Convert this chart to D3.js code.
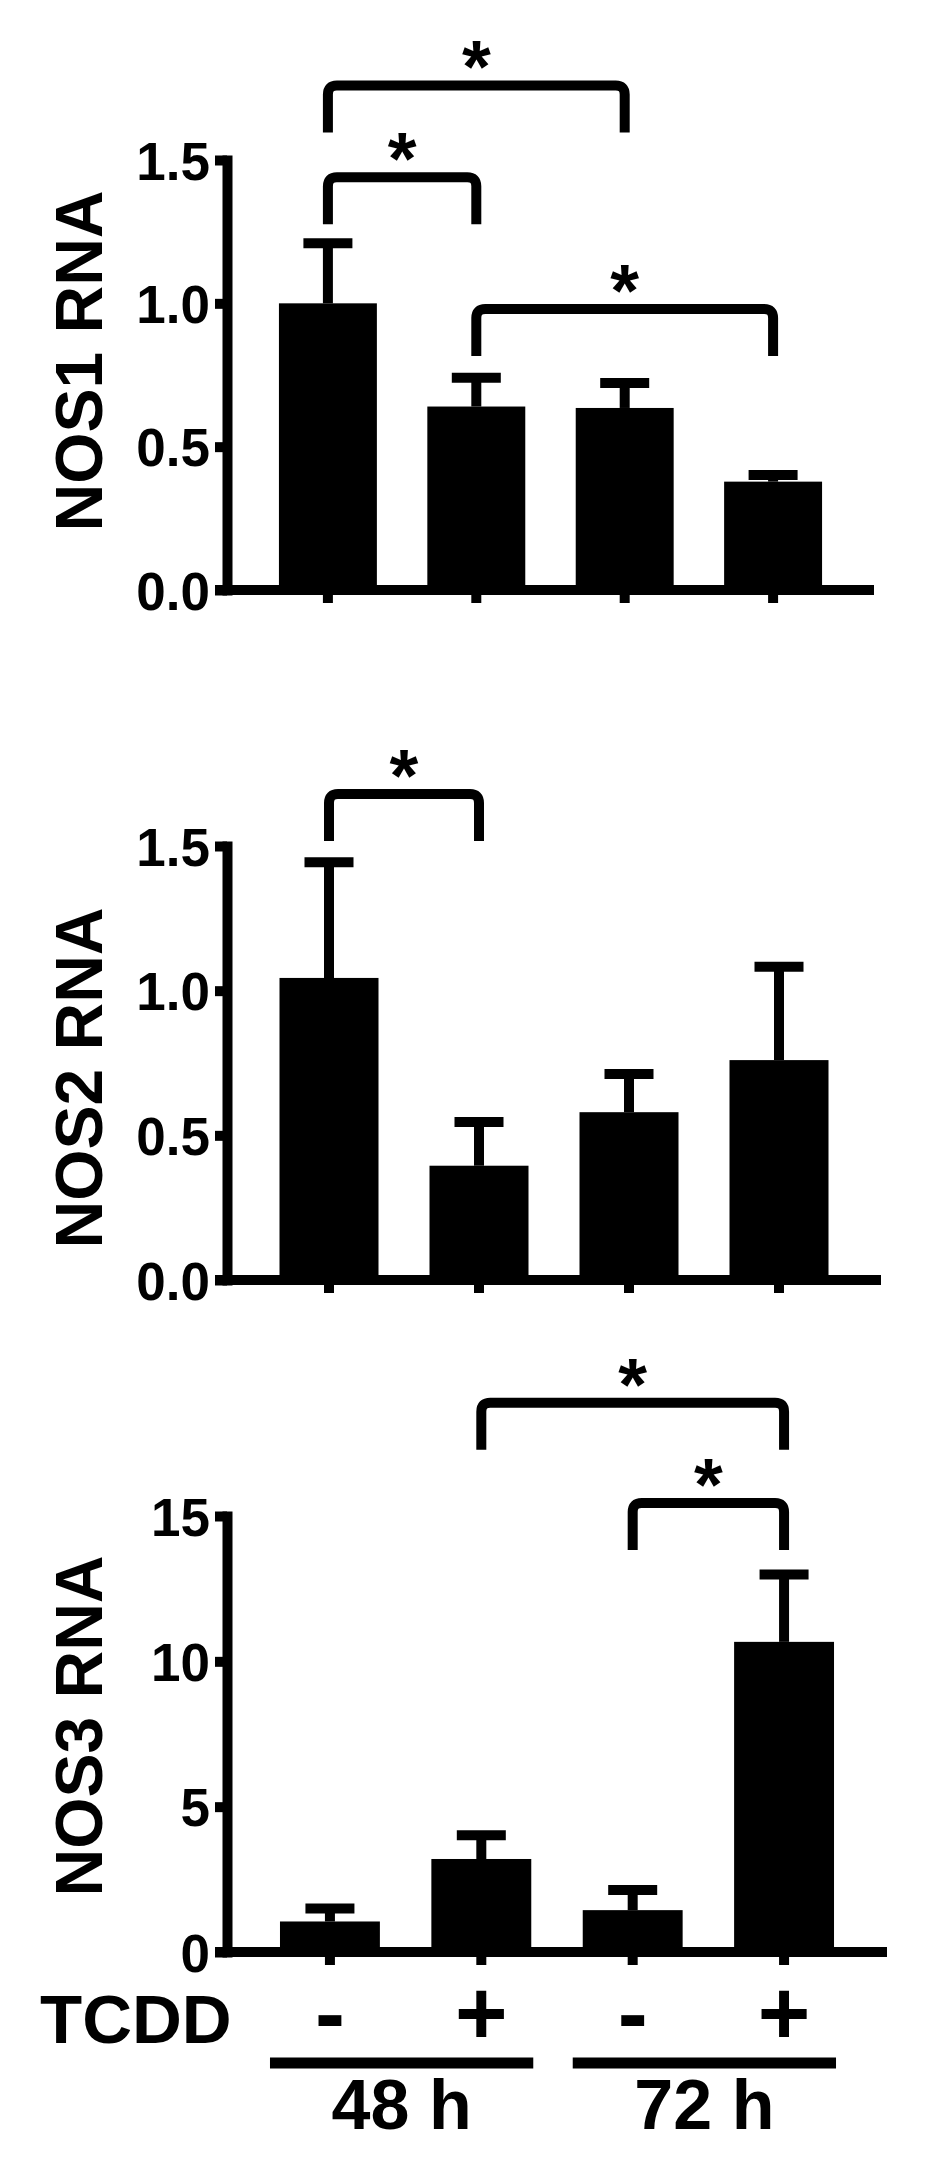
<!DOCTYPE html>
<html>
<head>
<meta charset="utf-8">
<script src="https://cdn.jsdelivr.net/npm/d3@7"></script>
<style>
  body { margin: 0; background: #fff; }
  svg { display: block; font-family: "Liberation Sans", Arial, sans-serif; font-weight: bold; }
</style>
</head>
<body>
<svg width="935" height="2161"></svg>
<script>
// groups along the x axis
var categories = ["48h ctrl", "48h TCDD", "72h ctrl", "72h TCDD"];
var tcddLabels = ["-", "+", "-", "+"];
var timeLabels = ["48 h", "72 h"];

// NOS1
var nos1Mean = [1.00, 0.64, 0.635, 0.378];
var nos1Err  = [0.21, 0.10, 0.087, 0.023];
var nos1Ticks = [0, 0.5, 1.0, 1.5];
var nos1Sig = [[0, 2, 1.76], [0, 1, 1.44], [1, 3, 0.98]];   // from, to, bracket level

// NOS2
var nos2Mean = [1.044, 0.395, 0.58, 0.76];
var nos2Err  = [0.40, 0.151, 0.132, 0.323];
var nos2Ticks = [0, 0.5, 1.0, 1.5];
var nos2Sig = [[0, 1, 1.68]];

// NOS3
var nos3Mean = [1.05, 3.2, 1.44, 10.67];
var nos3Err  = [0.45, 0.82, 0.69, 2.32];
var nos3Ticks = [0, 5, 10, 15];
var nos3Sig = [[1, 3, 18.9], [2, 3, 15.45]];

var panels = [
  { title: "NOS1 RNA", mean: nos1Mean, err: nos1Err, ticks: nos1Ticks, sig: nos1Sig, fmt: d3.format(".1f"),
    top: 160, bottom: 590, xEnd: 874, titleY: 361 },
  { title: "NOS2 RNA", mean: nos2Mean, err: nos2Err, ticks: nos2Ticks, sig: nos2Sig, fmt: d3.format(".1f"),
    top: 846, bottom: 1280, xEnd: 881, titleY: 1078 },
  { title: "NOS3 RNA", mean: nos3Mean, err: nos3Err, ticks: nos3Ticks, sig: nos3Sig, fmt: d3.format("d"),
    top: 1516, bottom: 1952, xEnd: 887, titleY: 1726 }
];

var svg = d3.select("svg");
var axisX = 227,
    lw = 10,      // line weight used everywhere
    legLen = 47,
    capW = 49;

panels.forEach(function(p, pi) {
  var g = svg.append("g");

  var x = d3.scaleBand()
      .domain(categories)
      .range([axisX, p.xEnd])
      .paddingInner(0.34)
      .paddingOuter(0.35);

  var y = d3.scaleLinear()
      .domain([0, d3.max(p.ticks)])
      .range([p.bottom, p.top]);

  var bw = x.bandwidth();
  var cx = function(i) { return x(categories[i]) + bw / 2; };

  // bars
  g.selectAll("rect.bar")
    .data(p.mean)
    .enter().append("rect")
      .attr("class", "bar")
      .attr("x", function(d, i) { return x(categories[i]); })
      .attr("y", function(d) { return y(d); })
      .attr("width", bw)
      .attr("height", function(d) { return y(0) - y(d); })
      .attr("fill", "#000");

  // error bars (upper only)
  var eb = g.selectAll("g.err")
    .data(p.mean)
    .enter().append("g")
      .attr("class", "err")
      .attr("stroke", "#000")
      .attr("stroke-width", lw);
  eb.append("line")
      .attr("x1", function(d, i) { return cx(i); })
      .attr("x2", function(d, i) { return cx(i); })
      .attr("y1", function(d) { return y(d); })
      .attr("y2", function(d, i) { return y(d + p.err[i]); });
  eb.append("line")
      .attr("x1", function(d, i) { return cx(i) - capW / 2; })
      .attr("x2", function(d, i) { return cx(i) + capW / 2; })
      .attr("y1", function(d, i) { return y(d + p.err[i]); })
      .attr("y2", function(d, i) { return y(d + p.err[i]); });

  // y axis
  var yAxis = g.append("g")
      .attr("transform", "translate(" + axisX + ",0)")
      .call(d3.axisLeft(y).tickValues(p.ticks).tickFormat(p.fmt).tickSize(12).tickSizeOuter(0).tickPadding(5));
  yAxis.select(".domain").attr("stroke-width", lw).attr("stroke-linecap", "square");
  yAxis.selectAll(".tick line").attr("stroke-width", lw);
  yAxis.selectAll(".tick text")
      .attr("font-size", 53)
      .attr("font-family", "Liberation Sans, Arial, sans-serif")
      .attr("font-weight", "bold")
      .attr("dy", "0.36em")
      .attr("fill", "#000");

  // x axis: ticks only, baseline drawn separately so it reaches past the y ticks
  var xAxis = g.append("g")
      .attr("transform", "translate(0," + y(0) + ")")
      .call(d3.axisBottom(x).tickSize(13).tickFormat(""));
  xAxis.select(".domain").remove();
  xAxis.selectAll(".tick line").attr("stroke-width", lw);

  g.append("line")
      .attr("x1", axisX - 12).attr("x2", p.xEnd)
      .attr("y1", y(0)).attr("y2", y(0))
      .attr("stroke", "#000").attr("stroke-width", lw);

  // axis title
  g.append("text")
      .attr("transform", "translate(102," + p.titleY + ") rotate(-90)")
      .attr("text-anchor", "middle")
      .attr("font-size", 66)
      .text(p.title);

  // significance brackets
  var r = 9;
  g.selectAll("path.sig")
    .data(p.sig)
    .enter().append("path")
      .attr("class", "sig")
      .attr("fill", "none")
      .attr("stroke", "#000")
      .attr("stroke-width", lw)
      .attr("d", function(d) {
        var x1 = cx(d[0]), x2 = cx(d[1]), yy = y(d[2]), yb = yy + legLen;
        return "M" + x1 + "," + yb + "L" + x1 + "," + (yy + r) +
               "Q" + x1 + "," + yy + " " + (x1 + r) + "," + yy +
               "L" + (x2 - r) + "," + yy +
               "Q" + x2 + "," + yy + " " + x2 + "," + (yy + r) +
               "L" + x2 + "," + yb;
      });

  g.selectAll("text.star")
    .data(p.sig)
    .enter().append("text")
      .attr("class", "star")
      .attr("text-anchor", "middle")
      .attr("font-size", 74)
      .attr("x", function(d) { return (cx(d[0]) + cx(d[1])) / 2; })
      .attr("y", function(d) { return y(d[2]) + 7; })
      .text("*");

  // treatment row and time groups under the last panel
  if (pi === panels.length - 1) {
    g.append("text")
        .attr("x", 40).attr("y", 2043)
        .attr("font-size", 69)
        .text("TCDD");

    g.selectAll("text.trt")
      .data(tcddLabels)
      .enter().append("text")
        .attr("class", "trt")
        .attr("text-anchor", "middle")
        .attr("font-size", 90)
        .attr("x", function(d, i) { return cx(i); })
        .attr("y", 2044)
        .text(function(d) { return d; });

    timeLabels.forEach(function(t, k) {
      var a = x(categories[2 * k]) - 10,
          b = x(categories[2 * k + 1]) + bw + 2;
      g.append("line")
          .attr("x1", a).attr("x2", b)
          .attr("y1", 2063).attr("y2", 2063)
          .attr("stroke", "#000").attr("stroke-width", 11);
      g.append("text")
          .attr("x", (a + b) / 2).attr("y", 2129)
          .attr("text-anchor", "middle")
          .attr("font-size", 70)
          .text(t);
    });
  }
});
</script>
</body>
</html>
